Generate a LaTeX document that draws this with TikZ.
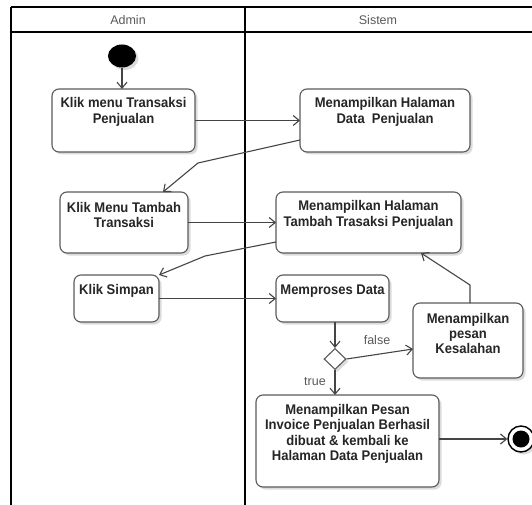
\documentclass[tikz,border=0pt]{standalone}
\usepackage{fontspec}
\setmainfont{Liberation Sans}
\newfontfamily\boxfont[FakeStretch=0.93]{Liberation Sans}
\usetikzlibrary{arrows.meta,shapes.geometric,shadows}

\definecolor{edgecol}{HTML}{454545}
\definecolor{bordercol}{HTML}{5A5A5A}
\definecolor{lanetext}{HTML}{595959}

\tikzset{
  shade/.style={drop shadow={shadow xshift=2.5pt, shadow yshift=-2.5pt, fill=black, opacity=0.14}},
  act/.style={draw=bordercol, line width=1.1pt, rounded corners=7pt, fill=white,
              outer sep=0pt, inner sep=0pt, shade},
  txt/.style={font=\boxfont\bfseries\fontsize{14pt}{15.3pt}\selectfont, align=center,
              text=black!85, inner sep=0pt},
  lanehead/.style={font=\fontsize{12.5pt}{14pt}\selectfont, text=lanetext, inner sep=0pt},
  guard/.style={font=\fontsize{12.5pt}{14pt}\selectfont, text=lanetext, inner sep=0pt},
  flow/.style={draw=edgecol, line width=1.1pt, -{Straight Barb[length=6pt,width=10pt]}},
  lane/.style={line width=1.8pt, black}
}

\begin{document}
\begin{tikzpicture}[x=1pt, y=-1pt]
  \useasboundingbox (0,0) rectangle (532,505);

  % swimlanes
  \draw[lane] (11,7) -- (532,7);
  \draw[lane] (11,32) -- (532,32);
  \draw[lane] (11,7) -- (11,505);
  \draw[lane] (245,7) -- (245,505);
  \node[lanehead] (hadmin) at (128,20) {Admin};
  \node[lanehead] (hsistem) at (378,20) {Sistem};

  % start node
  \node[ellipse, fill=black, minimum width=28pt, minimum height=23pt, inner sep=0pt, shade] (start) at (122,56) {};

  % activities
  \node[act, minimum width=143pt, minimum height=63pt] (n1) at (123.5,120.5) {};
  \node[txt] (t1) at (123.5,112) {Klik menu Transaksi\\Penjualan};

  \node[act, minimum width=170pt, minimum height=63pt] (n3) at (385,120.5) {};
  \node[txt] (t3) at (385,112) {Menampilkan Halaman\\Data\ \ Penjualan};

  \node[act, minimum width=128pt, minimum height=61pt] (n4) at (124,222.5) {};
  \node[txt] (t4) at (124,215) {Klik Menu Tambah\\Transaksi};

  \node[act, minimum width=185pt, minimum height=61pt] (n5) at (368.5,222.5) {};
  \node[txt] (t5) at (368.5,215) {Menampilkan Halaman\\Tambah Trasaksi Penjualan};

  \node[act, minimum width=85pt, minimum height=47pt] (n6) at (116.5,298.5) {};
  \node[txt] (t6) at (116.5,291) {Klik Simpan};

  \node[act, minimum width=113pt, minimum height=47pt] (n7) at (332.5,298.5) {};
  \node[txt] (t7) at (332.5,291) {Memproses Data};

  \node[act, minimum width=110pt, minimum height=75pt] (n8) at (468,340.5) {};
  \node[txt] (t8) at (468,333.5) {Menampilkan\\pesan\\Kesalahan};

  \node[diamond, draw=bordercol, line width=1.1pt, fill=white, minimum width=22pt,
        minimum height=21pt, inner sep=0pt, shade] (dec) at (335,359) {};

  \node[act, minimum width=183pt, minimum height=92pt] (n10) at (347.5,441) {};
  \node[txt] (t10) at (347.5,434) {Menampilkan Pesan\\Invoice Penjualan Berhasil\\dibuat \& kembali ke\\Halaman Data Penjualan};

  % final node
  \node[circle, draw=black, line width=1.4pt, fill=white, minimum size=26pt, inner sep=0pt, shade] (fin) at (521,439) {};
  \node[circle, fill=black, minimum size=17pt, inner sep=0pt] (fincore) at (fin) {};

  % bend points
  \coordinate (b1) at (198,163);
  \coordinate (b2) at (205,256);
  \coordinate (b3) at (470,285);

  % flows
  \draw[flow] (start.south) -- (start.south |- n1.north);
  \draw[flow] (n1) -- (n3);
  \draw[flow] ([yshift=-19.5pt]n3.west) -- (b1) -- ([xshift=39pt]n4.north);
  \draw[flow] (n4) -- (n5);
  \draw[flow] ([yshift=-19.5pt]n5.west) -- (b2) -- (n6.north east);
  \draw[flow] (n6) -- (n7);
  \draw[flow] (dec.north |- n7.south) -- (dec.north);
  \draw[flow] (dec.east) -- ([yshift=-8.5pt]n8.west);
  \draw[flow] (dec.south) -- (dec.south |- n10.north);
  \draw[flow] ([xshift=2pt]n8.north) -- (b3) -- ([xshift=52.5pt]n5.south);
  \draw[flow] (n10.east |- fin) -- (fin.west);

  % guards
  \node[guard] (gfalse) at (377,340) {false};
  \node[guard] (gtrue) at (315,382) {true};
\end{tikzpicture}
\end{document}
